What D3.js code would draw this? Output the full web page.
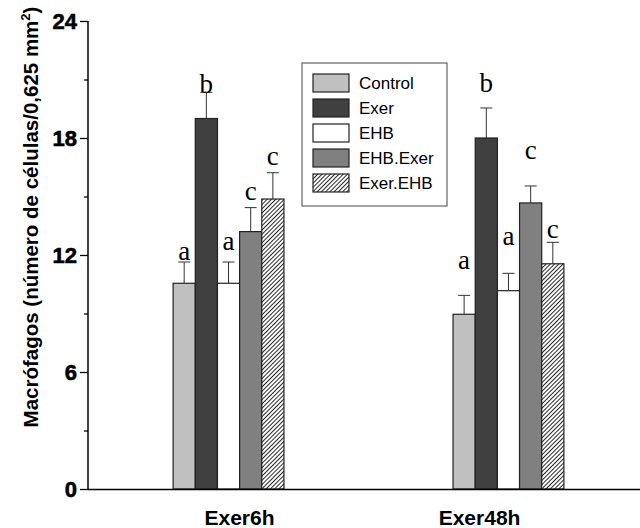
<!DOCTYPE html>
<html>
<head>
<meta charset="utf-8">
<script src="https://cdn.jsdelivr.net/npm/d3@7"></script>
<style>
  body { margin: 0; background: #fff; }
  svg { display: block; }
</style>
</head>
<body>
<div class="svg-container"></div>
<script>
// data
const groups = ["Exer6h", "Exer48h"];
const series = ["Control", "Exer", "EHB", "EHB.Exer", "Exer.EHB"];
const means6h = [10.55, 19.0, 10.55, 13.2, 14.87];
const means48h = [8.96, 18.0, 10.17, 14.67, 11.55];
const errTop6h = [11.64, 20.34, 11.64, 14.43, 16.22];
const errTop48h = [9.93, 19.54, 11.06, 15.54, 12.65];
const letters6h = ["a", "b", "a", "c", "c"];
const letters48h = ["a", "b", "a", "c", "c"];
const letterY6h = [11.74, 20.3, 12.26, 14.82, 16.62];
const letterY48h = [11.28, 20.36, 12.51, 16.92, 12.87];
const yTicks = [0, 6, 12, 18, 24];
const yMinorTicks = [3, 9, 15, 21];

const fills = ["#c0c0c0", "#404040", "#ffffff", "#808080", "url(#hatch)"];

const width = 640, height = 528;
const svg = d3.select("div.svg-container").append("svg")
    .attr("width", width).attr("height", height);

const defs = svg.append("defs");
const pat = defs.append("pattern")
    .attr("id", "hatch").attr("patternUnits", "userSpaceOnUse")
    .attr("width", 3).attr("height", 3)
    .attr("patternTransform", "rotate(45)");
pat.append("rect").attr("width", 3).attr("height", 3).attr("fill", "#fff");
pat.append("line").attr("x1", 0.5).attr("y1", 0).attr("x2", 0.5).attr("y2", 3)
    .attr("stroke", "#111").attr("stroke-width", 0.9);

const plotLeft = 88, plotBottom = 489, plotTop = 21;

const y = d3.scaleLinear().domain([0, 24]).range([plotBottom, plotTop]);
const x0 = d3.scaleBand().domain(groups).range([plotLeft, 649])
    .paddingInner(0.604).paddingOuter(0.304);
const x1 = d3.scaleBand().domain(series).range([0, x0.bandwidth()]);
const xLab = d3.scalePoint().domain(groups).range([plotLeft, 630]).padding(0.629);

const rows = groups.map((g, gi) => ({
  group: g,
  means: gi === 0 ? means6h : means48h,
  errs: gi === 0 ? errTop6h : errTop48h,
  letters: gi === 0 ? letters6h : letters48h,
  letterY: gi === 0 ? letterY6h : letterY48h
}));

// error bars (upper only), bars, letters
rows.forEach(r => {
  const g = svg.append("g").attr("transform", `translate(${x0(r.group)},0)`);
  series.forEach((s, i) => {
    const cx = x1(s) + x1.bandwidth() / 2;
    g.append("line").attr("x1", cx).attr("x2", cx)
      .attr("y1", y(r.means[i])).attr("y2", y(r.errs[i]))
      .attr("stroke", "#333").attr("stroke-width", 1);
    g.append("line").attr("x1", cx - 6).attr("x2", cx + 6)
      .attr("y1", y(r.errs[i])).attr("y2", y(r.errs[i]))
      .attr("stroke", "#333").attr("stroke-width", 1);
  });
  g.selectAll("rect.bar").data(series).join("rect")
    .attr("class", "bar")
    .attr("x", s => x1(s))
    .attr("width", x1.bandwidth())
    .attr("y", (s, i) => y(r.means[i]))
    .attr("height", (s, i) => plotBottom - y(r.means[i]))
    .attr("fill", (s, i) => fills[i])
    .attr("stroke", "#222").attr("stroke-width", 1.2);
  g.selectAll("text.let").data(series).join("text")
    .attr("class", "let")
    .attr("x", s => x1(s) + x1.bandwidth() / 2)
    .attr("y", (s, i) => y(r.letterY[i]))
    .attr("text-anchor", "middle")
    .style("font-family", "'Liberation Serif', 'Times New Roman', serif")
    .style("font-size", "27px")
    .text((s, i) => r.letters[i]);
});

// axes
const yAxis = svg.append("g")
    .attr("transform", `translate(${plotLeft},0)`)
    .call(d3.axisLeft(y).tickValues(yTicks).tickSize(8).tickFormat(""));
svg.append("g").attr("transform", `translate(${plotLeft},0)`)
    .call(d3.axisLeft(y).tickValues(yMinorTicks).tickSize(4).tickFormat(""))
    .call(g => g.select(".domain").remove());
svg.selectAll(".tick line").attr("stroke", "#000").attr("stroke-width", 1.3);
yAxis.select(".domain").attr("stroke-width", 1.5).attr("d", `M0,${plotTop}V${plotBottom}`);
svg.append("g").selectAll("text").data(yTicks).join("text")
    .attr("x", plotLeft - 11)
    .attr("y", d => y(d) + 8)
    .attr("text-anchor", "end")
    .attr("font-family", "'Liberation Sans', Arial, sans-serif")
    .attr("font-weight", "bold").attr("font-size", 22)
    .attr("fill", "#000").attr("stroke", "#000").attr("stroke-width", 0.6)
    .text(d => d);

const xAxis = svg.append("g").attr("transform", `translate(0,${plotBottom})`)
    .call(d3.axisBottom(xLab).tickSize(0).tickPadding(0));
xAxis.select(".domain").attr("d", `M${plotLeft},0.5H${width}`).attr("stroke-width", 1.5);
xAxis.selectAll("text")
    .attr("dy", null).attr("y", 36)
    .style("font-family", "'Liberation Sans', Arial, sans-serif")
    .style("font-weight", "bold").style("font-size", "21px").attr("fill", "#000");

// y label
const yl = svg.append("text")
    .attr("transform", "translate(38,217) rotate(-90)")
    .attr("text-anchor", "middle")
    .style("font-family", "'Liberation Sans', Arial, sans-serif")
    .style("font-weight", "bold").style("font-size", "20.5px");
yl.append("tspan").text("Macrófagos (número de células/0,625 mm");
yl.append("tspan").attr("dy", -8).style("font-size", "13px").text("2");
yl.append("tspan").attr("dy", 8).text(")");

// legend
const legend = svg.append("g").attr("transform", "translate(302,63)");
legend.append("rect").attr("width", 145).attr("height", 143)
    .attr("fill", "#fff").attr("stroke", "#444").attr("stroke-width", 1);
const li = legend.selectAll("g.item").data(series).join("g")
    .attr("class", "item")
    .attr("transform", (d, i) => `translate(11,${11 + i * 25})`);
li.append("rect").attr("width", 36).attr("height", 18)
    .attr("fill", (d, i) => fills[i]).attr("stroke", "#222").attr("stroke-width", 1.2);
li.append("text").attr("x", 46).attr("y", 15)
    .style("font-family", "'Liberation Sans', Arial, sans-serif")
    .style("font-size", "17px").text(d => d);
</script>
</body>
</html>
